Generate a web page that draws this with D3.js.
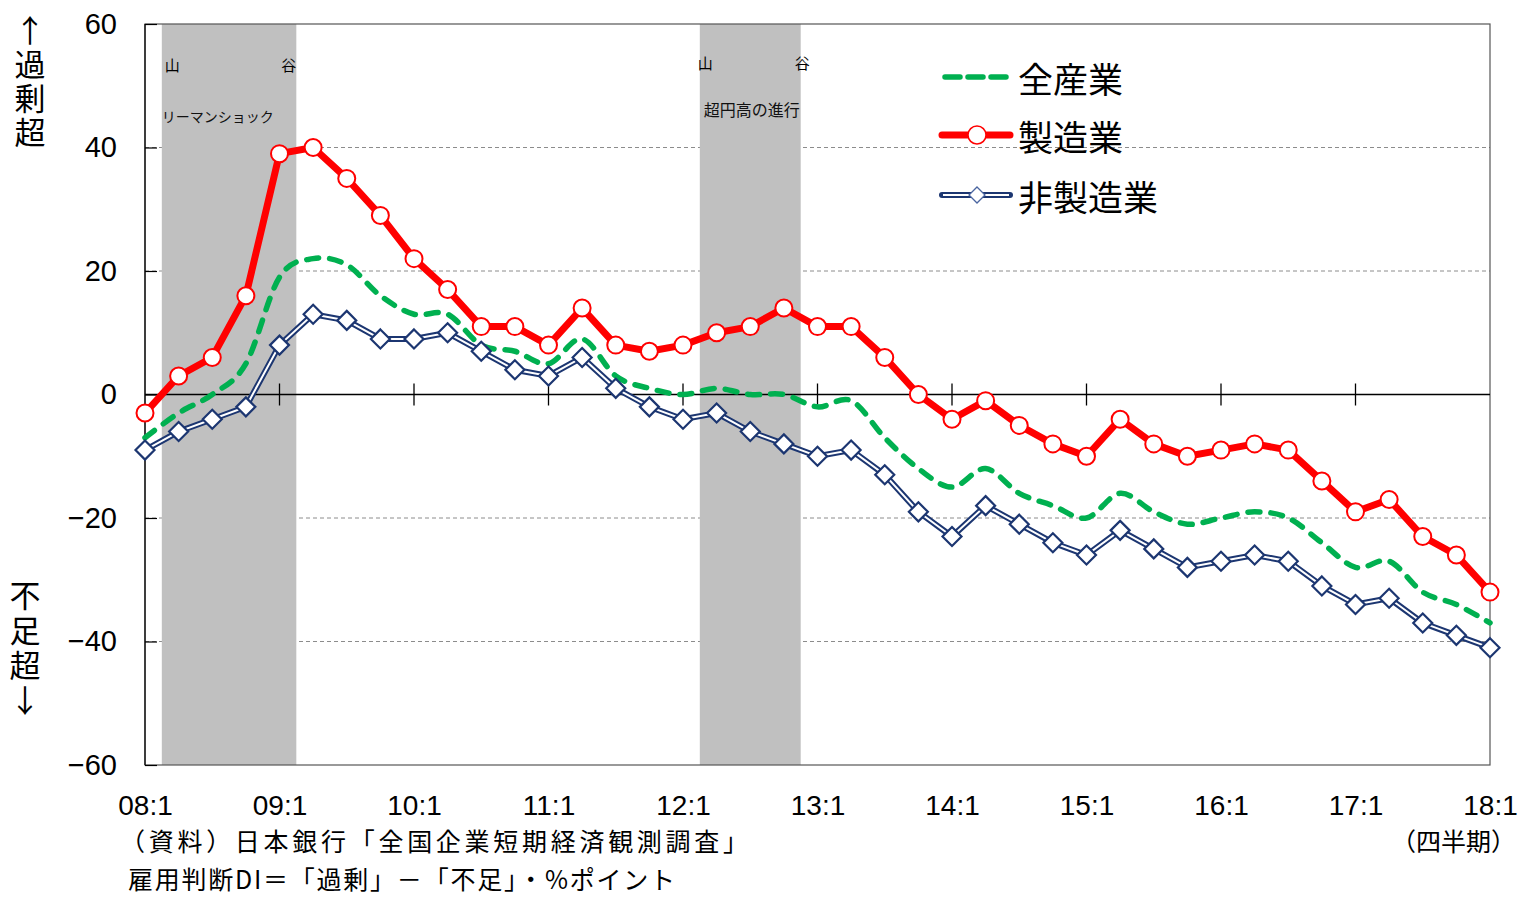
<!DOCTYPE html>
<html><head><meta charset="utf-8">
<script src="https://cdn.jsdelivr.net/npm/d3@7"></script>
<style>body{margin:0;background:#fff}</style>
</head><body>
<svg id="c" width="1521" height="897"></svg>
<script>
// ---- data ----
const tickLabels = ["08:1","09:1","10:1","11:1","12:1","13:1","14:1","15:1","16:1","17:1","18:1"];
const allIndustries = [-7,-3,0,5,19,22,21,16,13,13,8,7,5,9,3,1,0,1,0,0,-2,-1,-7,-12,-15,-12,-16,-18,-20,-16,-19,-21,-20,-19,-20,-24,-28,-27,-32,-34,-37];
const manufacturing = [-3,3,6,16,39,40,35,29,22,17,11,11,8,14,8,7,8,10,11,14,11,11,6,0,-4,-1,-5,-8,-10,-4,-8,-10,-9,-8,-9,-14,-19,-17,-23,-26,-32];
const nonManufacturing = [-9,-6,-4,-2,8,13,12,9,9,10,7,4,3,6,1,-2,-4,-3,-6,-8,-10,-9,-13,-19,-23,-18,-21,-24,-26,-22,-25,-28,-27,-26,-27,-31,-34,-33,-37,-39,-41];
const yTicks = [-60,-40,-20,0,20,40,60];
const gridValues = [40,20,-20,-40];
const bandStarts = [0.5, 16.5];
const bandEnds = [4.5, 19.5];
const bandNames = ["リーマンショック","超円高の進行"];
const seriesNames = ["全産業","製造業","非製造業"];
const sourceLines = ["（資料）日本銀行「全国企業短期経済観測調査」","雇用判断DI＝「過剰」－「不足」・%ポイント"];
const axisTitles = ["↑過剰超","不足超↓"];

// ---- layout ----
const L = 145, R = 1490, T = 24, B = 765;
const JP = "'Noto Sans CJK JP', sans-serif";
const NUM = "'Liberation Sans', Arial, sans-serif";
const svg = d3.select("#c");
svg.append("rect").attr("width",1521).attr("height",897).attr("fill","#fff");

const n = manufacturing.length;
const x = d3.scaleLinear().domain([0, n-1]).range([L, R]);
const y = d3.scaleLinear().domain([-60, 60]).range([B, T]);
const yearIdx = tickLabels.map((d,i)=>i*4);

// gridlines
svg.append("g").selectAll("line").data(gridValues).join("line")
  .attr("x1", L).attr("x2", R).attr("y1", d=>y(d)).attr("y2", d=>y(d))
  .attr("stroke","#8c8c8c").attr("stroke-width",1).attr("stroke-dasharray","4,3");

// shaded bands
svg.append("g").selectAll("rect").data(bandStarts).join("rect")
  .attr("x", d=>x(d)).attr("y", T)
  .attr("width", (d,i)=>x(bandEnds[i])-x(d)).attr("height", B-T)
  .attr("fill","#c0c0c0");

// plot box
svg.append("rect").attr("x",L).attr("y",T).attr("width",R-L).attr("height",B-T)
  .attr("fill","none").attr("stroke","#555").attr("stroke-width",1.2);
svg.append("line").attr("x1",L).attr("x2",L).attr("y1",T).attr("y2",B).attr("stroke","#000").attr("stroke-width",1.2);

// left axis
const yAxis = d3.axisLeft(y).tickValues(yTicks).tickSize(-12).tickPadding(28)
  .tickFormat(d => d < 0 ? "−" + Math.abs(d) : String(d));
const gy = svg.append("g").attr("transform", `translate(${L},0)`).call(yAxis);
gy.select(".domain").remove();
gy.selectAll(".tick line").attr("stroke","#000").attr("stroke-width",1.2);
gy.selectAll(".tick text").attr("font-family", NUM).attr("font-size", 29).attr("fill","#000");

// bottom labels
const xAxis = d3.axisBottom(x).tickValues(yearIdx).tickSize(0).tickPadding(30)
  .tickFormat((d,i)=>tickLabels[i]);
const gx = svg.append("g").attr("transform", `translate(0,${B})`).call(xAxis);
gx.select(".domain").remove();
gx.selectAll(".tick text").attr("font-family", NUM).attr("font-size", 28).attr("fill","#000");

// zero line with ticks
svg.append("line").attr("x1",L).attr("x2",R).attr("y1",y(0)).attr("y2",y(0))
  .attr("stroke","#000").attr("stroke-width",1.3);
svg.append("g").selectAll("line").data(yearIdx.slice(1, -1)).join("line")
  .attr("x1", d=>x(d)).attr("x2", d=>x(d)).attr("y1", y(0)-11).attr("y2", y(0)+11)
  .attr("stroke","#000").attr("stroke-width",1.3);

// band annotations
bandStarts.forEach((s,i)=>{
  const x0 = x(s), x1 = x(bandEnds[i]);
  const yy = i===0 ? 64 : 62;
  svg.append("text").attr("x", i===0 ? x0+3 : x0-2).attr("y", yy).attr("dominant-baseline","central")
    .attr("font-family", JP).attr("font-size", 15).text("山");
  svg.append("text").attr("x", i===0 ? x1 : x1+9).attr("y", yy).attr("dominant-baseline","central")
    .attr("text-anchor","end").attr("font-family", JP).attr("font-size", 15).text("谷");
  svg.append("text").attr("x", i===0 ? x0 : x0+4).attr("y", i===0 ? 116 : 109).attr("dominant-baseline","central")
    .attr("font-family", JP).attr("font-size", i===0 ? 14 : 16).attr("fill","#111").text(bandNames[i]);
});

// series
const navy = "#1c3671";
const smooth = d3.line().x((d,i)=>x(i)).y(d=>y(d)).curve(d3.curveCardinal.tension(0));
const straight = d3.line().x((d,i)=>x(i)).y(d=>y(d));

svg.append("path").attr("d", smooth(allIndustries)).attr("fill","none")
  .attr("stroke","#00b050").attr("stroke-width",5.5).attr("stroke-dasharray","12,11")
  .attr("stroke-linecap","round");

svg.append("path").attr("d", straight(manufacturing)).attr("fill","none")
  .attr("stroke","#ff0000").attr("stroke-width",7).attr("stroke-linejoin","round");
svg.append("g").selectAll("circle").data(manufacturing).join("circle")
  .attr("cx",(d,i)=>x(i)).attr("cy",d=>y(d)).attr("r",8.5)
  .attr("fill","#fff").attr("stroke","#ff0000").attr("stroke-width",2);

svg.append("path").attr("d", straight(nonManufacturing)).attr("fill","none")
  .attr("stroke",navy).attr("stroke-width",6);
svg.append("path").attr("d", straight(nonManufacturing)).attr("fill","none")
  .attr("stroke","#fff").attr("stroke-width",2);
const dia = (cx,cy,h)=>`M${cx},${cy-h}L${cx+h},${cy}L${cx},${cy+h}L${cx-h},${cy}Z`;
svg.append("g").selectAll("path").data(nonManufacturing).join("path")
  .attr("d",(d,i)=>dia(x(i),y(d),9.5))
  .attr("fill","#fff").attr("stroke",navy).attr("stroke-width",2.2);

// legend
const lg = svg.append("g");
const lx0 = 942, lx1 = 1010, ly = [77,135,195];
lg.append("line").attr("x1",lx0+3).attr("x2",lx1-3).attr("y1",ly[0]).attr("y2",ly[0])
  .attr("stroke","#00b050").attr("stroke-width",5.5).attr("stroke-dasharray","15,8").attr("stroke-linecap","round");
lg.append("line").attr("x1",lx0).attr("x2",lx1).attr("y1",ly[1]).attr("y2",ly[1])
  .attr("stroke","#ff0000").attr("stroke-width",7).attr("stroke-linecap","round");
lg.append("circle").attr("cx",977).attr("cy",ly[1]).attr("r",9).attr("fill","#fff").attr("stroke","#ff0000").attr("stroke-width",1.5);
lg.append("line").attr("x1",lx0).attr("x2",lx1).attr("y1",ly[2]).attr("y2",ly[2])
  .attr("stroke",navy).attr("stroke-width",6).attr("stroke-linecap","round");
lg.append("line").attr("x1",lx0+1).attr("x2",lx1-1).attr("y1",ly[2]).attr("y2",ly[2])
  .attr("stroke","#fff").attr("stroke-width",2);
lg.append("path").attr("d",dia(977,ly[2],8)).attr("fill","#fff").attr("stroke","#4a65a0").attr("stroke-width",1.3);
lg.selectAll("text").data(seriesNames).join("text")
  .attr("x",1018).attr("y",(d,i)=>ly[i]).attr("dominant-baseline","central")
  .attr("font-family",JP).attr("font-size",35).attr("fill","#000").text(d=>d);

// axis titles (vertical)
[[30, 15, 3], [25, 580, 4]].forEach(([xx, y0, sp], i) => {
  svg.append("text").attr("x", xx).attr("y", y0)
    .style("writing-mode","vertical-rl").style("text-orientation","upright")
    .attr("letter-spacing", sp)
    .attr("font-family",JP).attr("font-size",31).attr("fill","#000").text(axisTitles[i]);
});

// notes
svg.append("text").attr("x",120).attr("y",840).attr("dominant-baseline","central")
  .attr("font-family",JP).attr("font-size",25).attr("fill","#000")
  .attr("textLength",628).attr("lengthAdjust","spacing").text(sourceLines[0]);
svg.append("text").attr("x",128).attr("y",878).attr("dominant-baseline","central")
  .attr("font-family",JP).attr("font-size",25).attr("fill","#000")
  .attr("textLength",547).attr("lengthAdjust","spacing").text(sourceLines[1]);
svg.append("text").attr("x",1516).attr("y",840).attr("text-anchor","end").attr("dominant-baseline","central")
  .attr("font-family",JP).attr("font-size",25).attr("fill","#000").text("（四半期）");
</script>
</body></html>
